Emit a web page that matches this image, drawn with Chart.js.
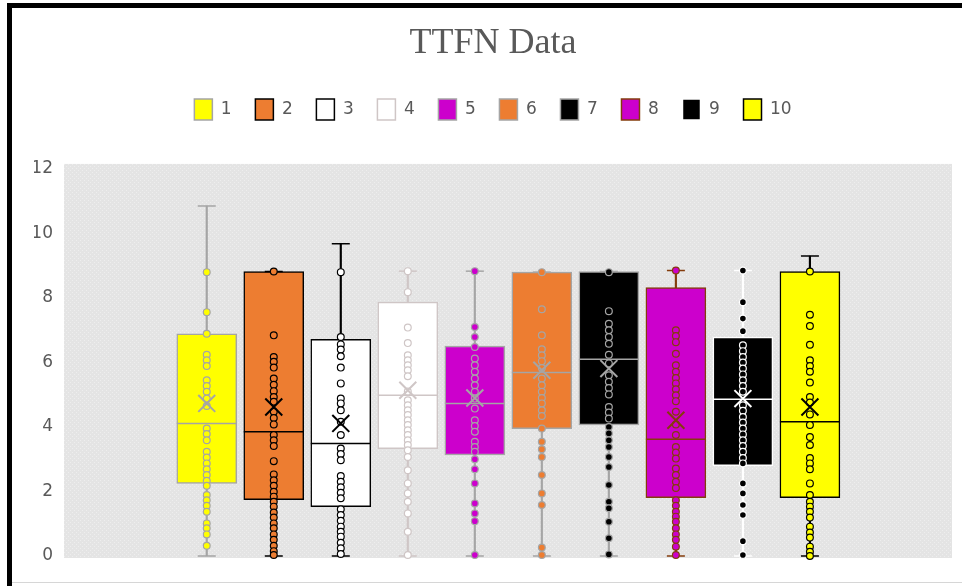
<!DOCTYPE html>
<html>
<head>
<meta charset="utf-8">
<script src="https://cdn.jsdelivr.net/npm/chart.js@4.4.0/dist/chart.umd.min.js"></script>
<style>
    body { margin: 0; background: #fff; }
    #wrap { position: relative; width: 962px; height: 586px; overflow: hidden; }
    #wrap canvas { position: absolute; left: 0; top: 0; }
    .edge { position: absolute; background: #000; }
</style>
</head>
<body>
<div id="wrap">
    <canvas id="myChart" width="962" height="586"></canvas>
    <div class="edge" style="left:7px;top:3px;width:955px;height:5px"></div>
    <div class="edge" style="left:7px;top:3px;width:5px;height:583px"></div>
    <div class="edge" style="left:12px;top:582px;width:950px;height:1px;background:#d6d6d6"></div>
</div>
<script>
// series names
const labels = ['1', '2', '3', '4', '5', '6', '7', '8', '9', '10'];

// box statistics
const q1Values = [2.25, 1.75, 1.53, 3.33, 3.13, 3.95, 4.06, 1.81, 2.80, 1.81];
const medianValues = [4.11, 3.85, 3.49, 4.98, 4.73, 5.69, 6.10, 3.62, 4.86, 4.16];
const q3Values = [6.89, 8.82, 6.72, 7.87, 6.51, 8.80, 8.82, 8.32, 6.79, 8.82];
const meanValues = [4.73, 4.62, 4.11, 5.14, 4.90, 5.76, 5.81, 4.21, 4.88, 4.62];
const minValues = [0, 0, 0, 0, 0, 0, 0, 0, 0, 0];
const maxValues = [10.85, 8.82, 9.68, 8.83, 8.83, 8.80, 8.82, 8.85, 8.85, 9.30];

// inner points for each series
const points1 = [8.80, 7.56, 6.89, 6.24, 6.07, 5.89, 5.45, 5.27, 5.09, 4.88, 4.65, 3.95, 3.78, 3.59, 3.23, 3.05, 2.87, 2.69, 2.51, 2.33, 2.18, 1.89, 1.73, 1.56, 1.37, 1.01, 0.86, 0.67, 0.32];
const points2 = [8.82, 6.84, 6.17, 6.02, 5.84, 5.50, 5.31, 5.11, 4.93, 4.78, 4.47, 4.28, 4.08, 3.75, 3.59, 3.41, 2.94, 2.53, 2.35, 2.18, 1.99, 1.84, 1.68, 1.53, 1.35, 1.19, 1.01, 0.86, 0.67, 0.50, 0.32, 0.15, 0.03];
const points3 = [8.80, 6.79, 6.56, 6.40, 6.19, 5.84, 5.35, 4.88, 4.73, 4.52, 4.16, 3.75, 3.33, 3.16, 2.97, 2.48, 2.30, 2.13, 1.96, 1.79, 1.45, 1.27, 1.09, 0.91, 0.75, 0.60, 0.41, 0.24, 0.06];
const points4 = [8.83, 8.18, 7.08, 6.60, 6.22, 6.07, 5.91, 5.76, 5.57, 5.10, 4.83, 4.67, 4.52, 4.37, 4.21, 4.06, 3.90, 3.75, 3.59, 3.44, 3.28, 3.07, 2.66, 2.25, 1.94, 1.68, 1.32, 0.75, 0.03];
const points5 = [8.83, 7.10, 6.79, 6.48, 6.12, 5.91, 5.71, 5.50, 5.29, 5.09, 4.88, 4.57, 4.21, 4.03, 3.85, 3.54, 3.38, 3.23, 3.00, 2.69, 2.25, 1.63, 1.32, 1.08, 0.03];
const points6 = [8.80, 7.65, 6.84, 6.41, 6.22, 6.04, 5.83, 5.50, 5.29, 5.09, 4.90, 4.73, 4.52, 4.34, 3.95, 3.54, 3.31, 3.07, 2.51, 1.94, 1.58, 0.26, 0.03];
const points7 = [8.80, 7.59, 7.20, 7.00, 6.79, 6.58, 6.24, 5.97, 5.60, 5.40, 5.21, 5.01, 4.62, 4.45, 4.26, 4.00, 3.80, 3.59, 3.38, 3.07, 2.76, 2.20, 1.68, 1.48, 1.06, 0.55, 0.05];
const points8 = [8.85, 7.00, 6.82, 6.63, 6.27, 5.91, 5.71, 5.52, 5.35, 5.17, 4.98, 4.80, 4.47, 4.08, 3.75, 3.38, 3.21, 3.02, 2.71, 2.51, 2.30, 2.11, 1.73, 1.56, 1.37, 1.22, 1.06, 0.86, 0.67, 0.50, 0.29, 0.03];
const points9 = [8.85, 7.87, 7.36, 6.97, 6.53, 6.35, 6.17, 6.00, 5.81, 5.63, 5.45, 5.27, 5.09, 4.67, 4.50, 4.31, 4.14, 3.95, 3.77, 3.59, 3.41, 3.23, 3.04, 2.87, 2.25, 1.94, 1.58, 1.27, 0.46, 0.03];
const points10 = [8.82, 7.48, 7.13, 6.55, 6.07, 5.89, 5.71, 5.38, 4.93, 4.76, 4.39, 4.06, 3.69, 3.44, 3.04, 2.87, 2.69, 2.25, 1.89, 1.68, 1.53, 1.37, 1.19, 0.91, 0.73, 0.57, 0.29, 0.13, 0.00];
const innerPoints = [points1, points2, points3, points4, points5, points6, points7, points8, points9, points10];

// y axis
const yTicks = [0, 2, 4, 6, 8, 10, 12];

// styles
const fillColors = ['#FFFF00', '#ED7D31', '#FFFFFF', '#FFFFFF', '#CC00CC', '#ED7D31', '#000000', '#CC00CC', '#000000', '#FFFF00'];
const lineColors = ['#A5A5A5', '#000000', '#000000', '#CFC6C6', '#A5A5A5', '#A5A5A5', '#A5A5A5', '#843C0C', '#FFFFFF', '#000000'];
const textColor = '#595959';
const labelFont = { family: 'DejaVu Sans', size: 17 };

const xOf = i => i + 1;

const boxSets = labels.map((name, i) => ({
    type: 'bar',
    label: name,
    data: [{ x: xOf(i), y: [q1Values[i], q3Values[i]] }],
    backgroundColor: fillColors[i],
    borderColor: lineColors[i],
    borderWidth: 1.5,
    borderSkipped: false,
    barThickness: 60,
    grouped: false,
    order: 5
}));

const whiskerSet = {
    type: 'bar',
    label: 'whisker',
    data: labels.map((n, i) => ({ x: xOf(i), y: [minValues[i], maxValues[i]] })),
    backgroundColor: lineColors,
    borderWidth: 0,
    barThickness: 1.5,
    grouped: false,
    order: 6
};

const capSet = {
    type: 'scatter',
    label: 'cap',
    data: labels.map((n, i) => ({ x: xOf(i), y: minValues[i] }))
        .concat(labels.map((n, i) => ({ x: xOf(i), y: maxValues[i] }))),
    pointStyle: 'line',
    pointRadius: 9,
    pointBorderWidth: 1.5,
    pointBorderColor: lineColors.concat(lineColors),
    clip: false,
    order: 4
};

const medianSet = {
    type: 'scatter',
    label: 'median',
    data: labels.map((n, i) => ({ x: xOf(i), y: medianValues[i] })),
    pointStyle: 'line',
    pointRadius: 30,
    pointBorderWidth: 1.5,
    pointBorderColor: lineColors,
    order: 4
};

const meanSet = {
    type: 'scatter',
    label: 'mean',
    data: labels.map((n, i) => ({ x: xOf(i), y: meanValues[i] })),
    pointStyle: 'crossRot',
    pointRadius: 12,
    pointBorderWidth: 2,
    pointBorderColor: lineColors,
    order: 1
};

const pointSets = labels.map((name, i) => ({
    type: 'scatter',
    label: name + ' points',
    data: innerPoints[i].map(v => ({ x: xOf(i), y: v })),
    pointRadius: 3.4,
    pointBorderWidth: 1.2,
    pointBackgroundColor: fillColors[i],
    pointBorderColor: lineColors[i],
    clip: false,
    order: 3
}));

// gray plot area with a fine dot texture
const plotBackground = {
    id: 'plotBackground',
    beforeDraw(chart) {
        const { ctx, chartArea: a } = chart;
        const tile = document.createElement('canvas');
        tile.width = 4;
        tile.height = 4;
        const t = tile.getContext('2d');
        t.fillStyle = '#e4e4e4';
        t.fillRect(0, 0, 4, 4);
        t.fillStyle = '#eeeeee';
        t.fillRect(0, 0, 1, 1);
        t.fillRect(2, 2, 1, 1);
        ctx.save();
        ctx.fillStyle = ctx.createPattern(tile, 'repeat');
        ctx.fillRect(a.left, a.top - 5, a.right - a.left, a.bottom - a.top + 7);
        ctx.restore();
    }
};

// extra room under the legend
const legendGap = {
    id: 'legendGap',
    beforeInit(chart) {
        const fit = chart.legend.fit;
        chart.legend.fit = function () {
            fit.call(this);
            this.height += 39;
        };
    }
};

new Chart(document.getElementById('myChart'), {
    data: {
        datasets: boxSets.concat([whiskerSet, capSet, medianSet, meanSet], pointSets)
    },
    options: {
        responsive: false,
        animation: false,
        layout: {
            autoPadding: false,
            padding: { left: 34, right: 10, top: 0, bottom: 30 }
        },
        scales: {
            x: {
                type: 'linear',
                min: -1.13,
                max: 12.12,
                offset: false,
                display: false
            },
            y: {
                min: 0,
                max: 12,
                afterBuildTicks: scale => { scale.ticks = yTicks.map(v => ({ value: v })); },
                afterFit: scale => { scale.width = 30; },
                ticks: {
                    padding: 11,
                    color: textColor,
                    font: labelFont
                },
                grid: { display: false, drawTicks: false },
                border: { display: false }
            }
        },
        plugins: {
            title: {
                display: true,
                text: 'TTFN Data',
                color: textColor,
                font: { family: 'Liberation Serif', size: 36, weight: 'normal' },
                padding: { top: 22, bottom: 10 }
            },
            legend: {
                labels: {
                    filter: item => item.datasetIndex < labels.length,
                    boxWidth: 18,
                    boxHeight: 21,
                    padding: 23.7,
                    color: textColor,
                    font: labelFont
                }
            },
            tooltip: { enabled: false }
        }
    },
    plugins: [plotBackground, legendGap]
});
</script>
</body>
</html>
